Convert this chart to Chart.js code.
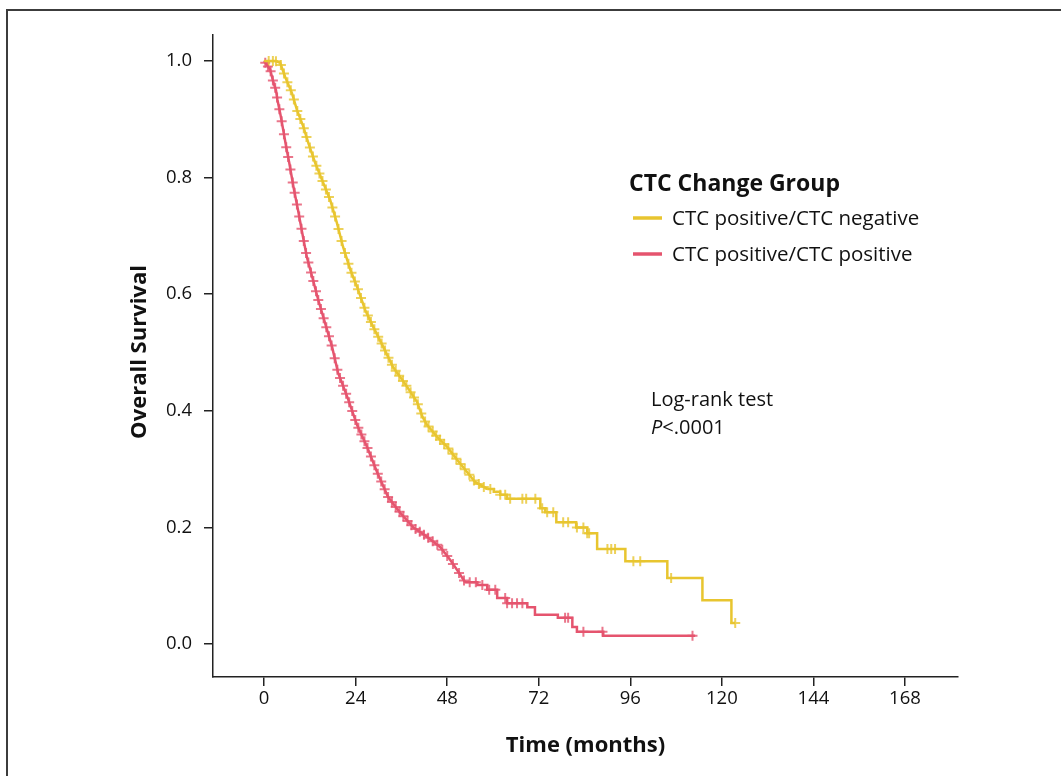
<!DOCTYPE html>
<html>
<head>
<meta charset="utf-8">
<script src="https://cdn.jsdelivr.net/npm/chart.js@4"></script>
<style>
  html, body { margin: 0; padding: 0; background: #fff; }
  #wrap { width: 1061px; height: 776px; position: relative; }
</style>
</head>
<body>
<div id="wrap"><canvas id="km" width="1061" height="776"></canvas></div>
<script>
// Kaplan-Meier curves (time in months, survival).
// The dense early part is drawn as a line, the sparse tail as steps.
const negTimes = [0, 3, 4.2, 5.5, 7.3, 8.6, 10.3, 11.6, 13.4, 15.5, 17.3, 19.1, 20.7, 22.6, 24.4, 26.5, 28.6, 31.2, 33.8, 37.5, 40.1, 41.5, 42.7, 45.4, 48, 50.6, 53.2, 55.3, 58.5];
const negSurv  = [1, 1, 0.997, 0.973, 0.945, 0.916, 0.887, 0.859, 0.825, 0.791, 0.762, 0.722, 0.681, 0.642, 0.612, 0.573, 0.544, 0.51, 0.475, 0.441, 0.415, 0.39, 0.376, 0.355, 0.338, 0.316, 0.295, 0.278, 0.266];
const negTailTimes = [58.5, 60.2, 61.9, 63.7, 72.4, 73.7, 76.6, 81.8, 84.7, 87.3, 94.7, 105.7, 114.9, 122.5, 123.5];
const negTailSurv  = [0.266, 0.261, 0.256, 0.249, 0.233, 0.226, 0.209, 0.2, 0.19, 0.163, 0.142, 0.113, 0.075, 0.036, 0.036];

const posTimes = [0, 1.6, 2.4, 3.1, 3.5, 4.2, 5.0, 5.8, 6.6, 7.7, 8.9, 10.0, 11.2, 12.6, 14.2, 16, 17.8, 19.4, 21.8, 24.4, 27, 29.6, 32.5, 35.7, 39.1, 42.7, 46.2, 48.8, 50.6, 52.7];
const posSurv  = [1, 0.985, 0.964, 0.95, 0.933, 0.911, 0.882, 0.852, 0.825, 0.784, 0.744, 0.705, 0.664, 0.63, 0.59, 0.55, 0.51, 0.465, 0.424, 0.375, 0.338, 0.295, 0.252, 0.225, 0.2, 0.184, 0.166, 0.144, 0.127, 0.106];
const posTailTimes = [52.7, 55.9, 58.5, 61.1, 63.7, 69, 71, 77, 80.8, 82, 88.9, 113];
const posTailSurv  = [0.106, 0.101, 0.093, 0.079, 0.07, 0.063, 0.05, 0.045, 0.029, 0.021, 0.014, 0.014];

// censoring times (the + marks)
const negCensor = [1.2, 2.3, 3.1, 4.4, 5.2, 6.1, 7.0, 7.8, 8.7, 9.5, 10.4, 11.1, 12.0, 12.8, 13.7, 14.5, 15.3, 16.2, 17.0, 17.9, 18.6, 19.5, 20.3, 21.2, 22.1, 22.9, 23.8, 24.6, 25.4, 26.3, 27.2, 28.0, 28.9, 29.9, 30.8, 31.7, 32.6, 33.5, 34.5, 35.4, 36.4, 37.3, 38.4, 39.3, 40.3, 41.2, 42.2, 43.1, 44.2, 45.1, 46.1, 47.2, 48.3, 49.4, 50.4, 51.5, 52.6, 53.8, 55.0, 56.3, 57.6, 59.3, 61.9, 63.2, 64.5, 67.7, 68.7, 71.1, 72.9, 74.2, 75.8, 78.4, 79.7, 82, 83.7, 84.7, 85.2, 90, 91, 92, 96.8, 98.6, 106.7, 123.5];
const posCensor = [0.3, 1.0, 1.7, 2.3, 2.9, 3.4, 4.0, 4.6, 5.2, 5.8, 6.3, 6.9, 7.5, 8.0, 8.6, 9.2, 9.8, 10.4, 11.0, 11.6, 12.3, 12.9, 13.6, 14.2, 14.9, 15.6, 16.3, 17.0, 17.7, 18.5, 19.2, 19.9, 20.7, 21.5, 22.3, 23.1, 23.9, 24.7, 25.5, 26.3, 27.1, 28.0, 28.9, 29.8, 30.7, 31.6, 32.5, 33.5, 34.5, 35.5, 36.5, 37.6, 38.6, 39.7, 40.8, 41.9, 43.0, 44.2, 45.4, 46.7, 48.0, 49.5, 51.1, 52.4, 53.9, 55.5, 57.2, 59.0, 60.6, 63.2, 63.7, 65, 66.3, 67.7, 78.9, 79.7, 83.7, 88.7, 112.3];

const xTicks = [0, 24, 48, 72, 96, 120, 144, 168];
const yTicks = [0, 0.2, 0.4, 0.6, 0.8, 1.0];

const groupNames = ['CTC positive/CTC negative', 'CTC positive/CTC positive'];
const legendTitle = 'CTC Change Group';

const YELLOW = '#E8C52F';
const RED = '#E5546E';

function toPoints(ts, ss) {
  return ts.map((t, i) => ({ x: t, y: ss[i] }));
}

// survival at time t: on the drawn line in the early part, on the step in the tail
function survAt(ts, ss, tailTs, tailSs, t) {
  if (t <= ts[ts.length - 1]) {
    for (let i = 1; i < ts.length; i++) {
      if (t <= ts[i]) {
        const f = (t - ts[i - 1]) / (ts[i] - ts[i - 1]);
        return ss[i - 1] + f * (ss[i] - ss[i - 1]);
      }
    }
    return ss[0];
  }
  let s = tailSs[0];
  for (let i = 0; i < tailTs.length; i++) {
    if (tailTs[i] <= t) s = tailSs[i];
  }
  return s;
}

function censorPoints(cs, ts, ss, tailTs, tailSs) {
  return cs.map(t => ({ x: t, y: survAt(ts, ss, tailTs, tailSs, t) }));
}

const FONT = '"Open Sans", "Noto Sans", sans-serif';

const overlay = {
  id: 'overlay',
  beforeDraw(chart) {
    const ctx = chart.ctx;
    ctx.save();
    ctx.strokeStyle = '#3c3c3c';
    ctx.lineWidth = 2;
    ctx.beginPath();
    ctx.moveTo(7, 776);
    ctx.lineTo(7, 10);
    ctx.lineTo(1061, 10);
    ctx.stroke();
    ctx.restore();
  },
  afterDraw(chart) {
    const ctx = chart.ctx;
    const area = chart.chartArea;
    ctx.save();
    ctx.fillStyle = '#111';

    // axis titles
    ctx.font = 'bold 22px ' + FONT;
    ctx.textAlign = 'center';
    ctx.textBaseline = 'middle';
    ctx.fillText('Time (months)', (area.left + area.right) / 2, 746);
    ctx.save();
    ctx.translate(140, 352);
    ctx.rotate(-Math.PI / 2);
    ctx.fillText('Overall Survival', 0, 0);
    ctx.restore();

    // legend
    ctx.textAlign = 'left';
    ctx.font = 'bold 23px ' + FONT;
    ctx.fillText(legendTitle, 629, 184);
    ctx.font = '20.5px ' + FONT;
    [0, 2].forEach((i, k) => {
      const ds = chart.data.datasets[i];
      const y = 219 + k * 36;
      ctx.strokeStyle = ds.borderColor;
      ctx.lineWidth = 3.5;
      ctx.beginPath();
      ctx.moveTo(633, y - 1);
      ctx.lineTo(662, y - 1);
      ctx.stroke();
      ctx.fillText(ds.label, 672, y);
    });

    // log-rank annotation
    ctx.font = '20px ' + FONT;
    ctx.fillText('Log-rank test', 651, 400);
    ctx.font = 'italic 20px ' + FONT;
    ctx.fillText('P', 651, 428);
    const pw = ctx.measureText('P').width;
    ctx.font = '20px ' + FONT;
    ctx.fillText('<.0001', 651 + pw, 428);
    ctx.restore();
  }
};

const lineStyle = { borderWidth: 2.5, pointRadius: 0, fill: false };
const crossStyle = { showLine: false, pointStyle: 'cross', pointRadius: 5, pointBorderWidth: 2 };

new Chart(document.getElementById('km'), {
  type: 'line',
  data: {
    datasets: [
      { ...lineStyle, label: groupNames[0], data: toPoints(negTimes, negSurv), borderColor: YELLOW },
      { ...lineStyle, label: groupNames[0] + ' tail', data: toPoints(negTailTimes, negTailSurv), borderColor: YELLOW, stepped: 'before' },
      { ...lineStyle, label: groupNames[1], data: toPoints(posTimes, posSurv), borderColor: RED },
      { ...lineStyle, label: groupNames[1] + ' tail', data: toPoints(posTailTimes, posTailSurv), borderColor: RED, stepped: 'before' },
      {
        ...crossStyle,
        label: 'censor-neg',
        data: censorPoints(negCensor, negTimes, negSurv, negTailTimes, negTailSurv),
        pointBorderColor: 'rgba(232,197,47,0.8)',
        borderColor: YELLOW
      },
      {
        ...crossStyle,
        label: 'censor-pos',
        data: censorPoints(posCensor, posTimes, posSurv, posTailTimes, posTailSurv),
        pointBorderColor: 'rgba(229,84,110,0.8)',
        borderColor: RED
      }
    ]
  },
  options: {
    responsive: false,
    animation: false,
    layout: { padding: { left: 0, right: 103, top: 35, bottom: 0 } },
    plugins: {
      legend: { display: false },
      tooltip: { enabled: false }
    },
    scales: {
      x: {
        type: 'linear',
        min: -13.4,
        max: 181.9,
        afterBuildTicks: scale => { scale.ticks = xTicks.map(v => ({ value: v })); },
        afterFit: scale => { scale.height = 99; },
        grid: { drawOnChartArea: false, drawTicks: true, tickLength: 9, color: '#222', lineWidth: 1.5 },
        border: { display: true, color: '#222', width: 1.5 },
        ticks: { color: '#111', font: { family: FONT, size: 18.5 }, padding: 2, maxRotation: 0 }
      },
      y: {
        type: 'linear',
        min: -0.0566,
        max: 1.0446,
        afterBuildTicks: scale => { scale.ticks = yTicks.map(v => ({ value: v })); },
        afterFit: scale => { scale.width = 213; },
        grid: { drawOnChartArea: false, drawTicks: true, tickLength: 9, color: '#222', lineWidth: 1.5 },
        border: { display: true, color: '#222', width: 1.5 },
        ticks: { color: '#111', font: { family: FONT, size: 18.5 }, padding: 12, callback: v => v.toFixed(1) }
      }
    }
  },
  plugins: [overlay]
});
</script>
</body>
</html>
